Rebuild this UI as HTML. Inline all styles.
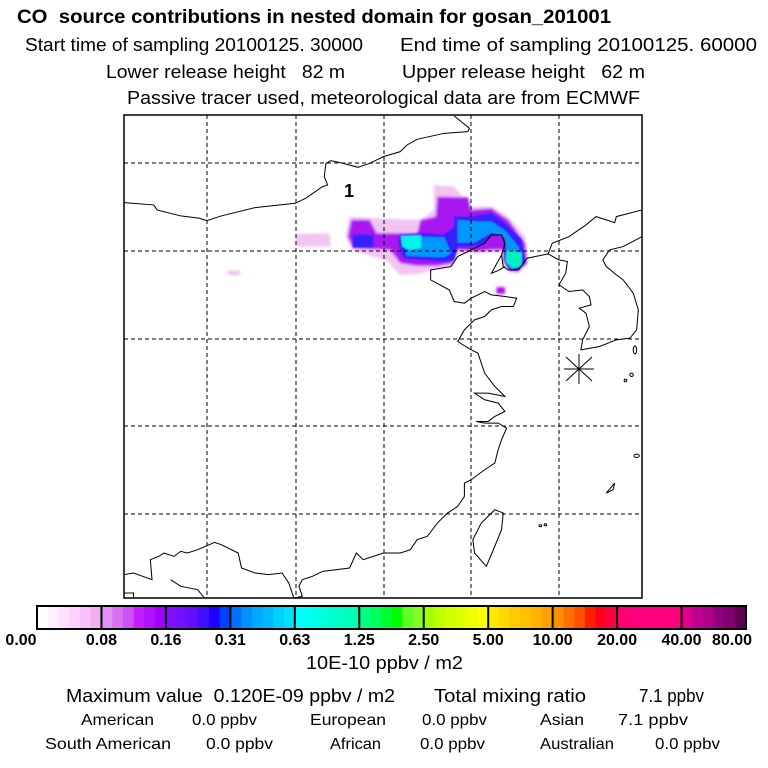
<!DOCTYPE html>
<html><head><meta charset="utf-8"><style>
html,body{margin:0;padding:0;background:#fff;}
svg{display:block;font-family:"Liberation Sans",sans-serif;}
text{white-space:pre;}
</style></head><body>
<svg id="chart" width="768" height="768" viewBox="0 0 768 768" xmlns="http://www.w3.org/2000/svg">
<defs><filter id="bl" x="-10%" y="-10%" width="120%" height="120%"><feGaussianBlur stdDeviation="4"/></filter>
<filter id="bl2"><feGaussianBlur stdDeviation="2.5"/></filter></defs>
<g fill="#000">
<text x="17" y="23" font-size="19" font-weight="bold" textLength="594" lengthAdjust="spacingAndGlyphs">CO  source contributions in nested domain for gosan_201001</text>
<text x="25" y="51" font-size="18" textLength="338" lengthAdjust="spacingAndGlyphs">Start time of sampling 20100125. 30000</text>
<text x="400" y="51" font-size="18" textLength="357" lengthAdjust="spacingAndGlyphs">End time of sampling 20100125. 60000</text>
<text x="106" y="78" font-size="18" textLength="239" lengthAdjust="spacingAndGlyphs">Lower release height   82 m</text>
<text x="402" y="78" font-size="18" textLength="243" lengthAdjust="spacingAndGlyphs">Upper release height   62 m</text>
<text x="127" y="104" font-size="18" textLength="513" lengthAdjust="spacingAndGlyphs">Passive tracer used, meteorological data are from ECMWF</text>
</g>
<g>
<g transform="translate(119.95,110) scale(0.3377,0.3331)">
<g filter="url(#bl)">
<polygon fill="#f2c4f2" points="930,225 990,230 1040,290 1100,290 1150,320 1200,380 1210,460 1180,490 1150,485 1130,450 1130,425 1100,428 1050,428 990,432 985,472 940,478 880,492 830,495 790,452 690,422 668,380 680,320 760,325 890,330 930,300"/>
<polygon fill="#f2c4f2" points="520,372 620,370 625,410 520,410"/>
<polygon fill="#f2c4f2" points="318,482 356,482 356,496 318,496"/>
<polygon fill="#a818f0" points="940,260 1030,262 1040,300 1100,295 1150,330 1200,400 1205,460 1180,485 1155,485 1135,455 1135,420 1100,420 1060,425 1000,420 985,460 940,468 880,468 830,460 800,420 690,415 675,380 685,330 740,330 760,370 880,370 890,330 935,320"/>
<polygon fill="#b010f0" points="1115,532 1140,532 1140,552 1115,552"/>
</g>
<g filter="url(#bl2)">
<polygon fill="#3020ff" points="990,320 1040,320 1100,310 1140,340 1190,390 1200,460 1175,480 1155,480 1140,455 1135,380 1100,375 1080,400 1040,410 1000,410 990,450 960,455 840,445 825,400 830,375 900,370 960,375 990,350"/>
<polygon fill="#3020ff" points="690,375 750,375 750,412 690,412"/>
<polygon fill="#0098ff" points="1000,330 1060,335 1100,335 1140,362 1180,410 1188,450 1160,468 1148,440 1140,382 1100,368 1050,398 1000,398"/>
<polygon fill="#0098ff" points="840,380 960,382 980,430 960,442 848,438"/>
<polygon fill="#00f4e8" points="832,378 892,376 892,414 860,420 836,410"/>
<polygon fill="#00f0c0" points="1145,420 1190,428 1190,468 1162,476 1142,455"/>
</g>
</g>
<g transform="translate(119.95,110) scale(0.3377,0.3331)" fill="none" stroke="#000" stroke-width="3">
<polyline points="12,278 100,285 110,300 180,318 235,325 258,332 300,318 400,293 519,280 550,265 600,230 615,225 605,200 610,160 625,152 660,160 705,172 740,160 780,140 830,125 850,105 880,88 960,70 1030,65 1035,55 990,18"/>
<polyline points="1546,300 1470,320 1465,338 1410,320 1380,345 1330,380 1280,400 1268,432 1300,450 1325,455 1320,490 1300,525 1330,545 1370,540 1390,560 1395,585 1360,595 1380,610 1390,650 1370,690 1365,720 1420,710 1470,690 1510,685 1530,660 1535,600 1520,550 1490,510 1470,495 1440,470 1430,450 1450,420 1490,410 1546,380"/>
<polyline points="1268,432 1205,445 1180,480 1150,480 1135,470 1130,435 1140,400 1130,375 1100,375 1080,400 1040,420 1000,440 980,470 920,480 920,510 975,540 990,575 1020,580 1040,565 1080,545 1100,555 1140,560 1175,565 1165,590 1130,590 1100,600 1080,620 1050,630 1040,640 1020,660 1000,695 1040,720 1060,730 1080,790 1110,830 1140,860 1090,850 1050,850 1080,870 1120,880 1140,905 1110,920 1090,935 1055,935 1080,940 1120,940 1145,955 1130,990 1120,1020 1110,1060 1080,1080 1040,1110 1020,1120 1020,1160 1000,1190 970,1210 940,1240 910,1280 880,1290 860,1320 830,1330 780,1330 750,1340 720,1350 700,1330 680,1375 600,1385 570,1400 540,1410 530,1430 540,1460 515,1465"/>
<polyline points="1130,435 1100,490 1120,482 1140,470"/>
<polyline points="515,1465 500,1420 480,1390 440,1395 400,1390 360,1375 350,1330 300,1305 280,1298 230,1320 200,1330 180,1325 160,1340 130,1330 115,1340 90,1350 95,1410 40,1390 12,1395"/>
<polyline points="12,1450 40,1450 40,1465"/>
<polyline points="150,1410 180,1430 230,1440 250,1465"/>
<polygon points="1110,1200 1135,1210 1130,1260 1110,1310 1085,1370 1050,1330 1045,1290 1070,1240"/>
<polygon points="1440,1150 1465,1120 1460,1140"/>
<ellipse cx="1530" cy="1038" rx="8" ry="5"/>
<ellipse cx="1525" cy="720" rx="5" ry="12"/>
<ellipse cx="1515" cy="795" rx="5" ry="5"/>
<ellipse cx="1497" cy="812" rx="4" ry="4"/>
<ellipse cx="1245" cy="1248" rx="4" ry="3"/><ellipse cx="1260" cy="1245" rx="4" ry="3"/>
</g>
<g stroke="#000" stroke-width="1" stroke-dasharray="4,3">
<line x1="207" y1="115" x2="207" y2="598"/><line x1="296" y1="115" x2="296" y2="598"/>
<line x1="384" y1="115" x2="384" y2="598"/><line x1="471" y1="115" x2="471" y2="598"/>
<line x1="559" y1="115" x2="559" y2="598"/>
<line x1="124" y1="163" x2="642" y2="163"/><line x1="124" y1="251" x2="642" y2="251"/>
<line x1="124" y1="339" x2="642" y2="339"/><line x1="124" y1="426" x2="642" y2="426"/>
<line x1="124" y1="514" x2="642" y2="514"/>
</g>
<rect x="124" y="115" width="518" height="483" fill="none" stroke="#000" stroke-width="1.5"/>
<text x="344" y="197" font-size="18" font-weight="bold">1</text>
<g stroke="#000" stroke-width="1">
<line x1="566" y1="357" x2="592" y2="381"/><line x1="566" y1="381" x2="592" y2="357"/>
<line x1="579" y1="354" x2="579" y2="384"/><line x1="564" y1="369" x2="594" y2="369"/>
</g>
</g>
<g id="colorbar"></g>
<g fill="#000">
<text x="306" y="669" font-size="18" textLength="157" lengthAdjust="spacingAndGlyphs">10E-10 ppbv / m2</text>
<text x="66" y="702" font-size="18" textLength="329" lengthAdjust="spacingAndGlyphs">Maximum value  0.120E-09 ppbv / m2</text>
<text x="434" y="702" font-size="18" textLength="152" lengthAdjust="spacingAndGlyphs">Total mixing ratio</text>
<text x="639" y="702" font-size="18" textLength="65" lengthAdjust="spacingAndGlyphs">7.1 ppbv</text>
<g font-size="16" lengthAdjust="spacingAndGlyphs">
<text x="81" y="725" textLength="73" lengthAdjust="spacingAndGlyphs">American</text>
<text x="192" y="725" textLength="65" lengthAdjust="spacingAndGlyphs">0.0 ppbv</text>
<text x="310" y="725" textLength="76" lengthAdjust="spacingAndGlyphs">European</text>
<text x="422" y="725" textLength="65" lengthAdjust="spacingAndGlyphs">0.0 ppbv</text>
<text x="540" y="725" textLength="44" lengthAdjust="spacingAndGlyphs">Asian</text>
<text x="618" y="725" textLength="70" lengthAdjust="spacingAndGlyphs">7.1 ppbv</text>
<text x="45" y="749" textLength="126" lengthAdjust="spacingAndGlyphs">South American</text>
<text x="206" y="749" textLength="67" lengthAdjust="spacingAndGlyphs">0.0 ppbv</text>
<text x="330" y="749" textLength="51" lengthAdjust="spacingAndGlyphs">African</text>
<text x="420" y="749" textLength="65" lengthAdjust="spacingAndGlyphs">0.0 ppbv</text>
<text x="540" y="749" textLength="74" lengthAdjust="spacingAndGlyphs">Australian</text>
<text x="655" y="749" textLength="65" lengthAdjust="spacingAndGlyphs">0.0 ppbv</text>
</g></g>
</svg>
<script>
const levelLabels = ["0.00","0.08","0.16","0.31","0.63","1.25","2.50","5.00","10.00","20.00","40.00","80.00"];
const segmentColors = [
["#ffffff","#fff0ff","#ffe0ff","#ffd0ff","#f8c0f8","#f0b0f0"],
["#e090f0","#d870f0","#d050f8","#c020ff","#b010ff","#a000ff"],
["#8010ff","#7010ff","#6010ff","#4010ff","#2000ff","#0040ff"],
["#0070ff","#0090ff","#00a8ff","#00b8ff","#00d0ff","#00e0ff"],
["#00ffff","#00ffee","#00ffe0","#00ffd0","#00ffc0","#00ffb0"],
["#00ff80","#00ff60","#00ff30","#00ff00","#60ff20","#80ff20"],
["#a0ff00","#c0ff00","#d0ff00","#e0ff00","#f0ff00","#ffff00"],
["#ffe800","#ffd800","#ffc800","#ffc000","#ffb000","#ffa000"],
["#ff9000","#ff7000","#ff5000","#ff2000","#ff0020","#ff0040"],
["#ff0070","#ff0078","#ff0080","#ff0080","#ff0080","#ff0080"],
["#e00090","#c00090","#b00088","#900080","#800070","#600050"]
];
const NS="http://www.w3.org/2000/svg";
const cb=document.getElementById('colorbar');
const x0=37,x1=746,yT=606,yB=629;
const segW=(x1-x0)/segmentColors.length;
function cx(i){return x0+i*segW;}
segmentColors.forEach((cols,i)=>{
  const sw=segW/cols.length;
  cols.forEach((c,j)=>{
    const r=document.createElementNS(NS,'rect');
    r.setAttribute('x',cx(i)+j*sw);r.setAttribute('y',yT);
    r.setAttribute('width',sw+0.5);r.setAttribute('height',yB-yT);
    r.setAttribute('fill',c);
    
    
    cb.appendChild(r);
  });
  if(i>0){
    const l=document.createElementNS(NS,'line');
    l.setAttribute('x1',cx(i));l.setAttribute('x2',cx(i));
    l.setAttribute('y1',yT);l.setAttribute('y2',yB);
    l.setAttribute('stroke','#000');l.setAttribute('stroke-width','2');
    
    
    cb.appendChild(l);
  }
});
const fr=document.createElementNS(NS,'rect');
fr.setAttribute('x',x0);fr.setAttribute('y',yT);fr.setAttribute('width',x1-x0);fr.setAttribute('height',yB-yT);
fr.setAttribute('fill','none');fr.setAttribute('stroke','#000');fr.setAttribute('stroke-width','2');


cb.appendChild(fr);
levelLabels.forEach((t,i)=>{
  const tx=document.createElementNS(NS,'text');
  let x=cx(i); if(i===0)x=x0-16; if(i===levelLabels.length-1)x=x1-14;
  tx.setAttribute('x',x);tx.setAttribute('y',645);
  tx.setAttribute('text-anchor','middle');tx.setAttribute('font-size','16');
  tx.setAttribute('font-weight','bold');
  
  
  tx.textContent=t;
  cb.appendChild(tx);
});
</script>
</body></html>
